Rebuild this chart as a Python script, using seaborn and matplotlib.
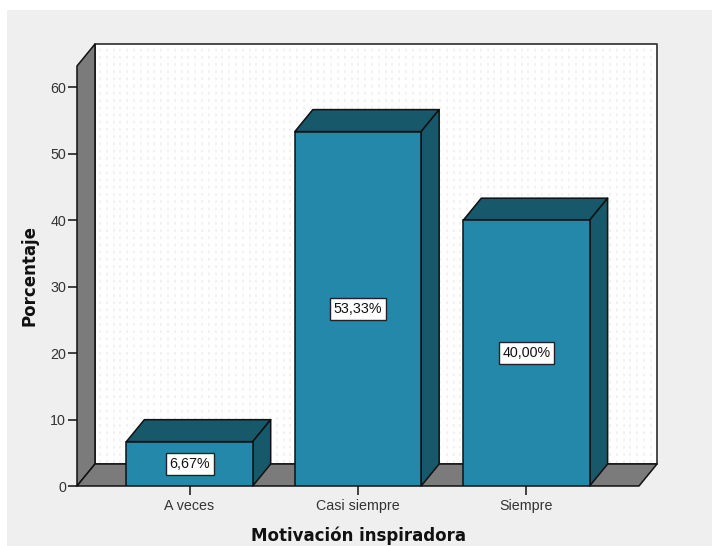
import numpy as np
import pandas as pd
import matplotlib
matplotlib.use("Agg")
import matplotlib.pyplot as plt
from matplotlib.patches import Polygon, Rectangle
import seaborn as sns

categories = ["A veces", "Casi siempre", "Siempre"]
percentages = [6.67, 53.33, 40.00]
value_labels = ["6,67%", "53,33%", "40,00%"]
y_ticks = [0, 10, 20, 30, 40, 50, 60]

PANEL = "#efefef"
WALL = "#7b7b7b"
FRONT = "#2488ab"
SHADE = "#17586b"
EDGE = "#101010"

sns.set_theme(style="white")
plt.rcParams["font.family"] = ["Liberation Sans", "DejaVu Sans"]

W, H = 712, 546
fig = plt.figure(figsize=(W / 100, H / 100), dpi=100, facecolor="white")
fig.patches.append(Rectangle((7 / W, 0), (W - 7) / W, (H - 10) / H, transform=fig.transFigure,
                             facecolor=PANEL, edgecolor="none", zorder=-5))

# Front plane of the 3-D box, in pixels of the saved figure
left, right, bottom, top = 77, 639, 486, 66
ax = fig.add_axes([left / W, 1 - bottom / H, (right - left) / W, (bottom - top) / H])
ax.patch.set_visible(False)

df = pd.DataFrame({"categoria": categories, "porcentaje": percentages})
bar_width = 0.75
sns.barplot(data=df, x="categoria", y="porcentaje", ax=ax, color=FRONT, saturation=1,
            width=bar_width, edgecolor=EDGE, linewidth=1.1, zorder=5)
ax.set_xlim(-0.668, 2.668)
ax.set_ylim(0, 63.2)

# Depth of the box expressed in data units
dx = 18 / 168.5
dy = 3.31
x0, x1 = ax.get_xlim()
y1 = ax.get_ylim()[1]


def face(points, color, zorder, lw=1.1, edge=EDGE):
    ax.add_patch(Polygon(points, closed=True, facecolor=color, edgecolor=edge,
                         linewidth=lw, joinstyle="round", clip_on=False, zorder=zorder))


# Back wall with its faint dotted texture, then the side wall and floor
face([(x0 + dx, dy), (x1 + dx, dy), (x1 + dx, y1 + dy), (x0 + dx, y1 + dy)], "white", 1, lw=1.3, edge="#3c3c3c")
ax.vlines(np.arange(x0 + dx + 0.03, x1 + dx - 0.01, 6.8 / 168.5), dy + 0.2, y1 + dy - 0.3,
          color="#f0f0f0", linewidth=1.3, linestyles=(0, (1.5, 2.5)), zorder=1.5, clip_on=False)
face([(x0, 0), (x0 + dx, dy), (x0 + dx, y1 + dy), (x0, y1)], WALL, 2)
face([(x0, 0), (x1, 0), (x1 + dx, dy), (x0 + dx, dy)], WALL, 2)

# Top and side faces of each bar, with its value label
for i, value in enumerate(percentages):
    a, b = i - bar_width / 2, i + bar_width / 2
    face([(a, value), (b, value), (b + dx, value + dy), (a + dx, value + dy)], SHADE, 4)
    face([(b, 0), (b + dx, dy), (b + dx, value + dy), (b, value)], SHADE, 4)
    ax.text(i, value / 2, value_labels[i], ha="center", va="center", fontsize=10.3, color="#111111",
            zorder=7, bbox=dict(boxstyle="square,pad=0.26", facecolor="white", edgecolor="#222222", linewidth=1.0))

sns.despine(ax=ax, top=True, right=True, left=True, bottom=True)
ax.set_yticks(y_ticks)
ax.tick_params(axis="both", which="both", left=True, bottom=True, length=6.8, width=1.2, color="#222222",
               labelsize=10.3, labelcolor="#333333", pad=2)
ax.tick_params(axis="y", pad=1)
ax.tick_params(axis="x", pad=2.5)
ax.set_xlabel("")
ax.set_ylabel("")

fig.text(358.5 / W, 1 - 536 / H, "Motivación inspiradora", ha="center", va="center",
         fontsize=12, fontweight="bold", color="#111111", family="DejaVu Sans")
fig.text(29.5 / W, 1 - 276 / H, "Porcentaje", ha="center", va="center", rotation=90,
         fontsize=12, fontweight="bold", color="#111111", family="DejaVu Sans")

fig.savefig("out.png", dpi=100, facecolor="white")
